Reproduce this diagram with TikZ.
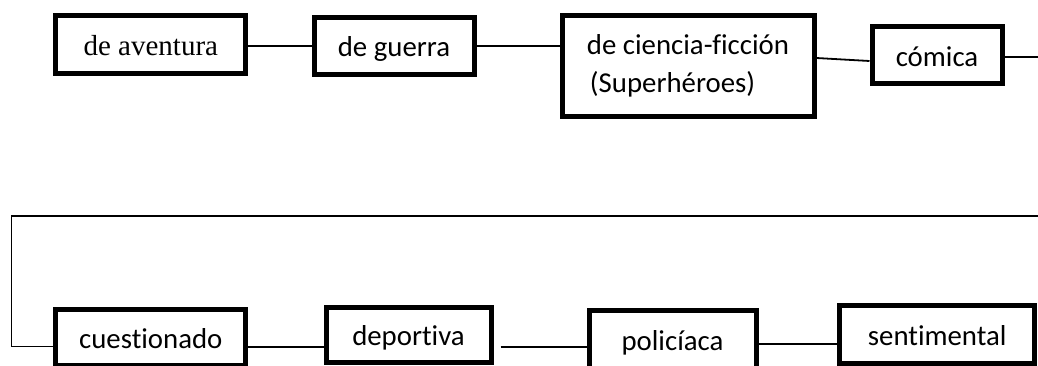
\documentclass[tikz,border=0pt]{standalone}
\usepackage{fontspec}
\setmainfont{Liberation Serif}
\newfontfamily\calibri[Ligatures=NoCommon]{Carlito}
\usepackage{tikz}
\usetikzlibrary{calc}

\begin{document}
\begin{tikzpicture}[x=1pt,y=-1pt,
  caja/.style={draw,line width=5pt,inner sep=0pt,text height=24pt,text depth=2pt,
    font=\fontsize{28.8}{38}\selectfont\calibri},
  enlace/.style={line width=1.8pt}]
  \path[use as bounding box,clip] (0,0) rectangle (1038,365);
  % fila de arriba
  \node[caja,font=\fontsize{29}{38}\selectfont\rmfamily,minimum width=190pt,minimum height=57.4pt] (aventura) at (150.8,44.5) {de aventura};
  \node[caja,minimum width=160pt,minimum height=56.7pt] (guerra) at (394,45.8) {de guerra};
  \node[caja,text height=,text depth=,align=left,minimum width=252pt,minimum height=101pt] (ciencia) at (688,65.5) {de ciencia-ficción\\\hspace{3pt}(Superhéroes)};
  \node[caja,minimum width=130pt,minimum height=57pt] (comica) at (937,55) {cómica};
  % fila de abajo
  \node[caja,minimum width=190pt,minimum height=56.6pt] (cuestionado) at (150.8,337.3) {cuestionado};
  \node[caja,minimum width=165pt,minimum height=55.4pt] (deportiva) at (408.5,334.7) {deportiva};
  \node[caja,minimum width=167pt,minimum height=58pt] (policiaca) at (672.5,339) {policíaca};
  \node[caja,minimum width=195pt,minimum height=58pt] (sentimental) at (937.2,334) {sentimental};
  \coordinate (dtop) at (1040,56.7);
  \coordinate (dmid) at (1040,216);
  \coordinate (imid) at (11.3,216);
  \coordinate (fila) at (0,346.7);
  \draw[enlace] (guerra.west -| aventura.east) -- (guerra.west);
  \draw[enlace] (guerra.east) -- (guerra.east -| ciencia.west);
  \draw[enlace] ($(ciencia.east |- comica.west)+(0,3)$) -- ($(comica.west)+(0,6)$);
  \draw[enlace] (comica.east |- dtop) -- (dtop);
  \draw[line width=2pt] (dmid) -- (imid);
  \draw[line width=1.2pt] (imid) |- (cuestionado.west |- fila);
  \draw[enlace] (cuestionado.east |- fila) -- (deportiva.west |- fila);
  \draw[enlace] ($(deportiva.east |- fila)+(7,0)$) -- (policiaca.west |- fila);
  \draw[enlace] ($(policiaca.east |- fila)+(0,-2.7)$) -- ($(sentimental.west |- fila)+(0,-2.7)$);
\end{tikzpicture}
\end{document}
